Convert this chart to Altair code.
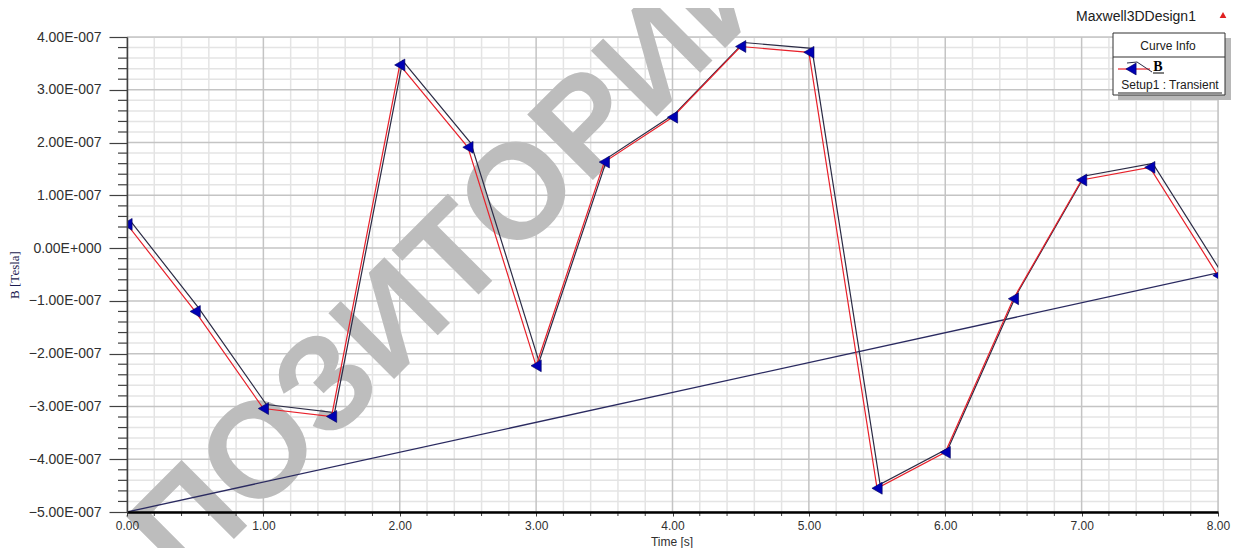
import altair as alt
import pandas as pd

# ---- data ----
time_s = [0.0, 0.5, 1.0, 1.5, 2.0, 2.5, 3.0, 3.5, 4.0, 4.5, 5.0, 5.5, 6.0, 6.5, 7.0, 7.5, 8.0]
b_e7 = [0.45, -1.20, -3.04, -3.19, 3.47, 1.91, -2.23, 1.63, 2.48, 3.82, 3.71, -4.55, -3.87, -0.96, 1.29, 1.53, -0.52]
diag_t = [0.0, 8.0]
diag_e7 = [-5.0, -0.47]

# tick / grid positions
x_all = [round(i * 0.2, 1) for i in range(41)]
x_major = [v for i, v in enumerate(x_all) if i % 5 == 0]
x_minor = [v for i, v in enumerate(x_all) if i % 5 != 0]
y_all = [round((-50 + 2 * i) * 1e-8, 15) for i in range(46)]
y_major = [v for i, v in enumerate(y_all) if i % 5 == 0]
y_minor = [v for i, v in enumerate(y_all) if i % 5 != 0]

df = pd.DataFrame({"t": time_s, "b": [v * 1e-7 for v in b_e7]})
df_diag = pd.DataFrame({"t": diag_t, "b": [v * 1e-7 for v in diag_e7]})
one = pd.DataFrame({"k": [0]})

FONT = "Liberation Sans"
SERIF = "Liberation Serif"
MAJOR_GRID = "#c4c4c4"
MINOR_GRID = "#e4e4e4"

xs = alt.Scale(domain=[0, 8], nice=False, zero=False)
ys = alt.Scale(domain=[-5e-7, 4e-7], nice=False, zero=False)

x_axis = alt.Axis(
    values=x_major, title=None, grid=False, zindex=1,
    format=".2f",
    labelFont=FONT, labelFontSize=12, labelColor="#303030", labelPadding=4,
    labelFlush=False, labelOverlap=False,
    tickSize=4, tickColor="#404040", tickWidth=1,
    domainColor="#000000", domainWidth=2.5,
)
y_axis = alt.Axis(
    values=y_major, title=None, grid=False, zindex=1,
    labelExpr="abs(datum.value) < 1e-12 ? '0.00E+000' : format(datum.value*1e7, '.2f') + 'E-007'",
    labelFont=FONT, labelFontSize=14, labelColor="#303030", labelPadding=8,
    labelFlush=False, labelOverlap=False,
    tickSize=18, tickWidth=1.2, tickColor="#404040",
    domainColor="#404040", domainWidth=1.5,
)

X = alt.X("t:Q", scale=xs, axis=x_axis)
Y = alt.Y("b:Q", scale=ys, axis=y_axis)

def vgrid(vals, color):
    return alt.Chart(pd.DataFrame({"t": vals})).mark_rule(color=color, strokeWidth=1.5).encode(x=X)

def hgrid(vals, color):
    return alt.Chart(pd.DataFrame({"b": vals})).mark_rule(color=color, strokeWidth=1.5).encode(y=Y)

grids = [vgrid(x_minor, MINOR_GRID), hgrid(y_minor, MINOR_GRID),
         vgrid(x_major, MAJOR_GRID), hgrid(y_major, MAJOR_GRID)]

y_minor_ticks = alt.Chart(pd.DataFrame({"b": y_minor})).mark_rule(color="#404040", strokeWidth=1.2).encode(
    y=Y, x=alt.value(-9), x2=alt.value(0))
x_minor_ticks = alt.Chart(pd.DataFrame({"t": x_minor})).mark_rule(color="#404040", strokeWidth=1).encode(
    x=X, y=alt.value(475), y2=alt.value(479))

red_line = alt.Chart(df).mark_line(color="#e8202a", strokeWidth=1.2, clip=True).encode(x=X, y=Y)
dark_line = alt.Chart(df).mark_line(color="#2b2b45", strokeWidth=1.2, xOffset=3, yOffset=-4, clip=True).encode(x=X, y=Y)
diag_line = alt.Chart(df_diag).mark_line(color="#2a2a60", strokeWidth=1.3, clip=True).encode(x=X, y=Y)
markers = alt.Chart(df).mark_point(
    shape="triangle-left", filled=True, size=140, color="#0000b4",
    stroke="#00005a", strokeWidth=0.6, opacity=1, clip=True,
).encode(x=X, y=Y)

def txt(s, x, y, size=12, font=FONT, weight="normal", color="#202020", align="center", angle=0, baseline="middle"):
    return alt.Chart(one).mark_text(
        text=s, font=font, fontSize=size, fontWeight=weight, color=color,
        align=align, baseline=baseline, angle=angle,
    ).encode(x=alt.value(x), y=alt.value(y))

def box(x1, x2, y1, y2, fill, stroke=None, sw=0):
    kw = dict(fill=fill, strokeWidth=sw)
    if stroke:
        kw["stroke"] = stroke
    return alt.Chart(one).mark_rect(**kw).encode(
        x=alt.value(x1), x2=alt.value(x2), y=alt.value(y1), y2=alt.value(y2))

def rule(x1, y1, x2, y2, color, w=1):
    return alt.Chart(one).mark_rule(color=color, strokeWidth=w).encode(
        x=alt.value(x1), x2=alt.value(x2), y=alt.value(y1), y2=alt.value(y2))

watermark = txt("ПОЗИТОРИЙ", 58, 551, size=135, weight="bold", color="#bdbdbd",
                align="left", angle=315, baseline="alphabetic")

legend = [
    box(991, 1104, 1, 63, "#b8b8b8"),
    box(986, 1098, -4, 58, "#ffffff", "#303030", 1),
    rule(986, 20, 1098, 20, "#303030", 1),
    txt("Curve Info", 1041, 9, size=12),
    rule(991, 32, 1023, 32, "#e8202a", 1.2),
    rule(1000, 26, 1010, 25, "#2b2b45", 1),
    rule(1010, 25, 1025, 35, "#2b2b45", 1),
    alt.Chart(one).mark_point(shape="triangle-left", filled=True, size=140, color="#0000b4",
                              stroke="#00005a", strokeWidth=0.6, opacity=1).encode(
        x=alt.value(1004), y=alt.value(32)),
    txt("B", 1031, 30, size=14, font=SERIF, weight="bold", color="#000000"),
    rule(1026, 36, 1037, 36, "#000000", 1),
    txt("Setup1 : Transient", 1043, 48, size=12),
    rule(991, 56, 1095, 56, "#202020", 1),
]

titles = [
    txt("Maxwell3DDesign1", 1009, -20, size=14, color="#202020"),
    alt.Chart(one).mark_point(shape="triangle-up", filled=True, size=45, color="#e02020", opacity=1).encode(
        x=alt.value(1096), y=alt.value(-22)),
    txt("Time [s]", 545, 505, size=12, color="#303030"),
    txt("B [Tesla]", -112, 238, size=13, font=SERIF, color="#1a1a50", angle=270),
]

chart = alt.layer(
    *grids, watermark, y_minor_ticks, x_minor_ticks,
    diag_line, dark_line, red_line, markers,
    *legend, *titles,
).properties(
    width=1091, height=475,
    autosize=alt.AutoSizeParams(type="none"),
    padding={"left": 119, "top": 29, "right": 19, "bottom": 36},
).configure_view(
    stroke="#6e6e6e", strokeWidth=2,
).configure(font=FONT)

chart.save("out.html", embed_options={"renderer": "svg", "actions": False})
